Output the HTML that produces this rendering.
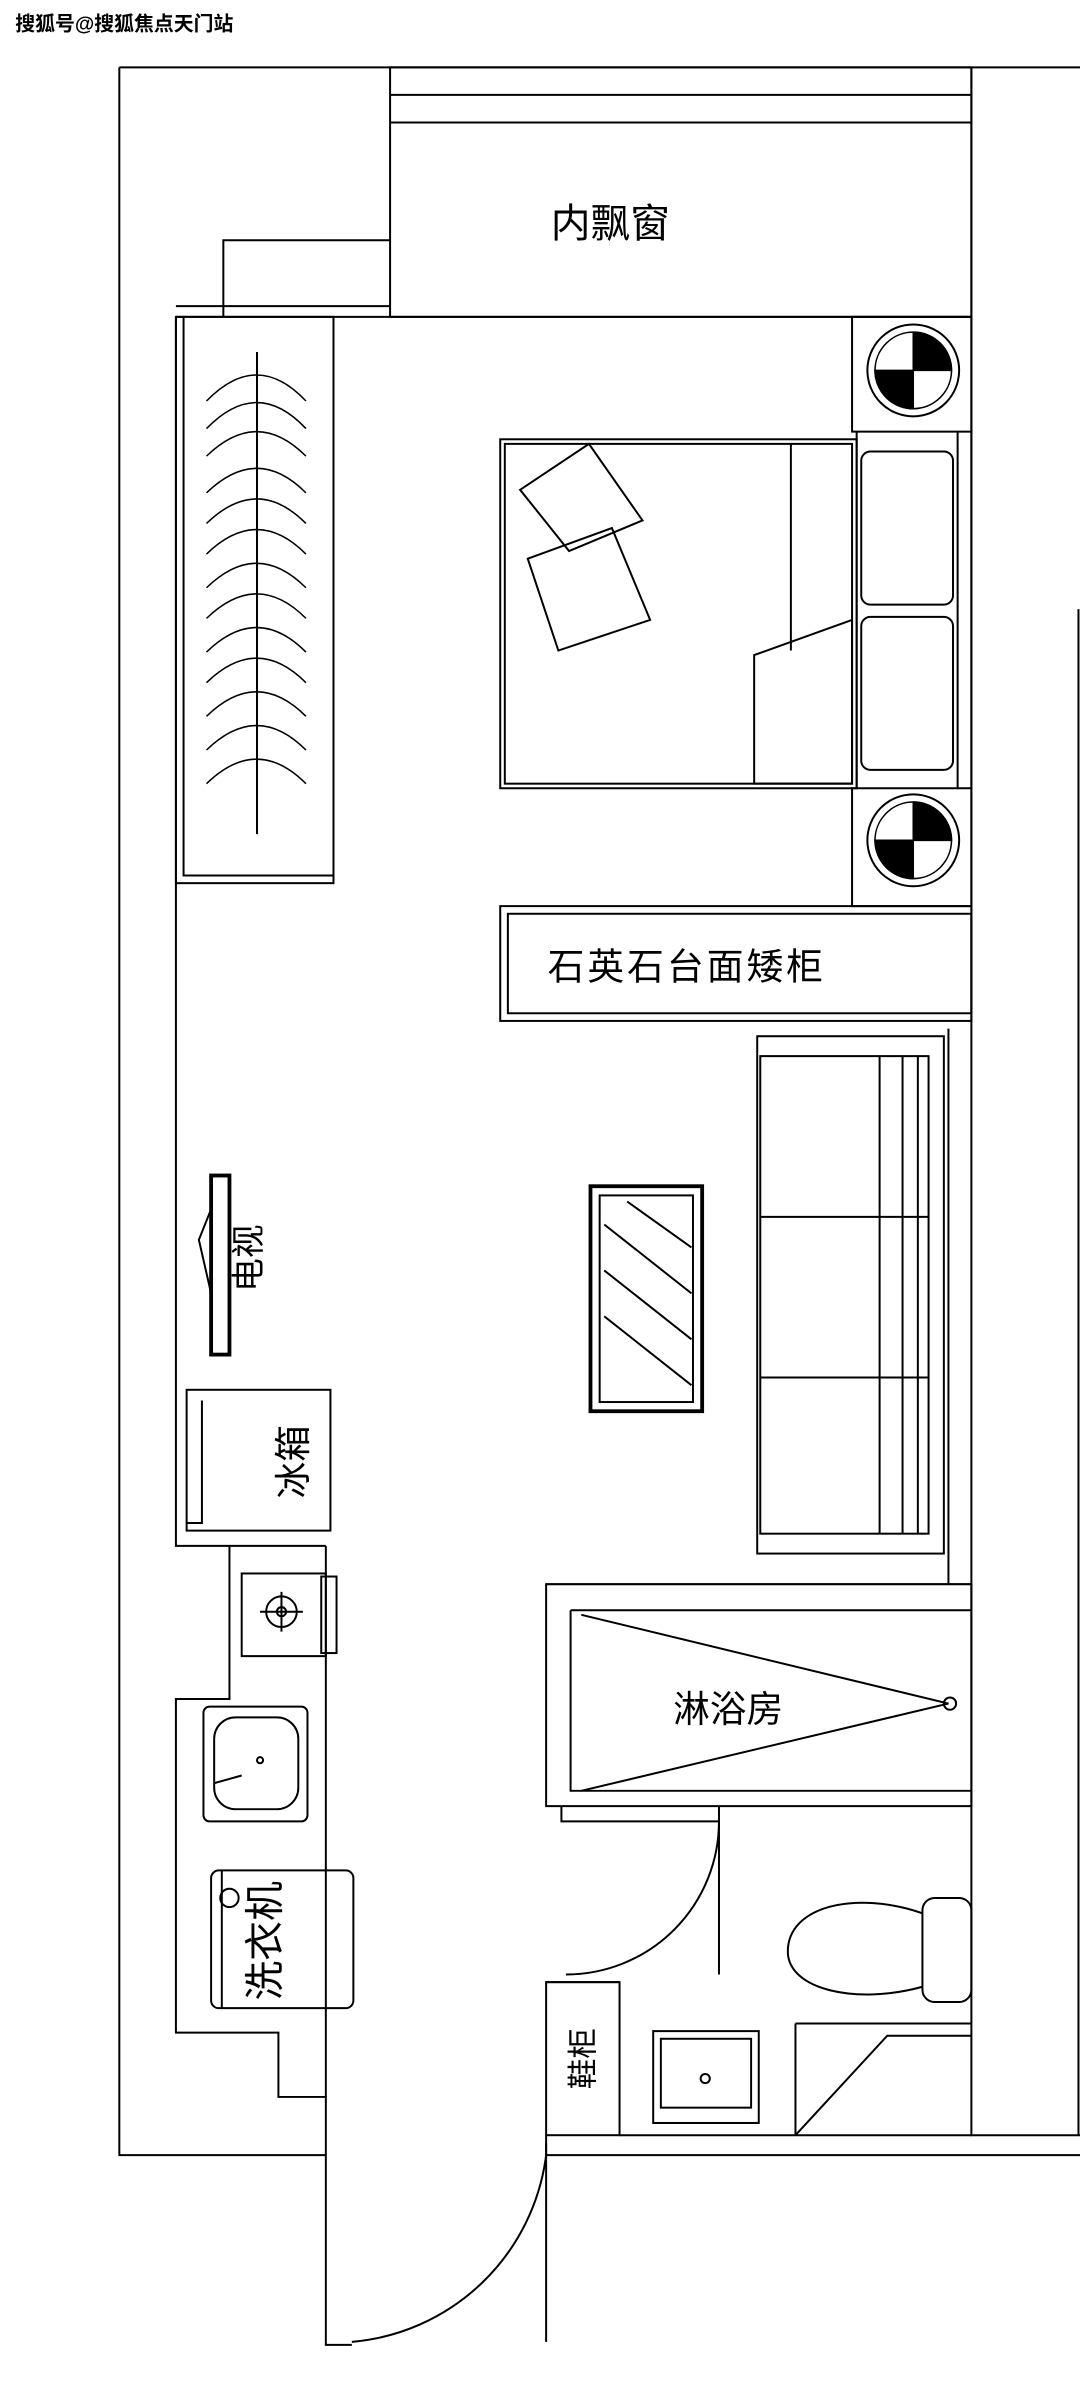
<!DOCTYPE html>
<html><head><meta charset="utf-8"><style>
html,body{margin:0;padding:0;background:#fff;width:1080px;height:2400px;overflow:hidden}
svg{display:block}
text{font-family:"Liberation Sans","Noto Sans CJK SC",sans-serif;fill:#000}
</style></head><body>
<svg width="1080" height="2400" viewBox="0 0 706 1568" preserveAspectRatio="none" xmlns="http://www.w3.org/2000/svg">
<rect width="706" height="1568" fill="#fff"/>
<text x="10" y="20" font-size="13" font-weight="bold">搜狐号@搜狐焦点天门站</text>
<g fill="none" stroke="#000" stroke-width="1.3">
<path d="M78 44 H706 M78 44 V1408 H213 M357 1408 H706"/>
<path d="M635 44 V1395 H706"/>
<path d="M705 398 V1395"/>
<rect x="255" y="44" width="380" height="163"/>
<path d="M255 62 H635 M255 80 H635"/>
<path d="M146 207 V157 H255"/>
<path d="M115 200 H255 M115 207 H635"/>
<path d="M115 207 V1010 H150 V1110 H115 V1328 H182 V1370 H213 V1532 H230"/>
<path d="M213 1010 V1370"/>
<path d="M150 1010 H213"/>
<rect x="115" y="207" width="103" height="370"/>
<path d="M120 207 V572 H218"/>
<path d="M168 230 V545"/>
</g>
<g fill="none" stroke="#000" stroke-width="1">
<path d="M135 262 Q168 228 200 262 M135 280 Q168 246 200 280 M135 298 Q168 266 200 298 M135 322 Q168 290 200 322 M135 342 Q168 310 200 342 M135 362 Q168 330 200 362 M135 384 Q168 352 200 384 M135 404 Q168 372 200 404 M135 426 Q168 394 200 426 M135 446 Q168 414 200 446 M135 468 Q168 436 200 468 M135 490 Q168 458 200 490 M135 512 Q168 480 200 512"/>
</g>
<g fill="none" stroke="#000" stroke-width="1.3">
<rect x="327" y="287" width="233" height="228"/>
<rect x="330" y="290" width="227" height="222"/>
<path d="M517 290 V425"/>
<path d="M493 428 L557 405 V512 H493 Z"/>
<path d="M340 320 L385 290 L420 340 L372 360 Z M345 365 L400 345 L425 405 L365 425 Z"/>
<rect x="557" y="207" width="78" height="75"/>
<rect x="557" y="515" width="78" height="77"/>
<path d="M560 282 V515 M635 282 V515 M626 282 V515"/>
<rect x="563" y="295" width="60" height="100" rx="6"/>
<rect x="563" y="403" width="60" height="100" rx="6"/>
<circle cx="597" cy="242" r="30"/>
<circle cx="597" cy="549" r="30"/>
</g>
<g stroke="#000" stroke-width="1">
<circle cx="597" cy="242" r="25" fill="#fff"/>
<path d="M597 217 A25 25 0 0 1 622 242 H597 Z M597 267 A25 25 0 0 1 572 242 H597 Z" fill="#000"/>
<circle cx="597" cy="549" r="25" fill="#fff"/>
<path d="M597 524 A25 25 0 0 1 622 549 H597 Z M597 574 A25 25 0 0 1 572 549 H597 Z" fill="#000"/>
</g>
<g fill="none" stroke="#000" stroke-width="1.3">
<rect x="327" y="592" width="308" height="75"/>
<rect x="332" y="597" width="303" height="65"/>
<path d="M357 1035 H635"/>
<path d="M620 672 V1035"/>
<rect x="495" y="677" width="122" height="338"/>
<rect x="497" y="690" width="110" height="312"/>
<path d="M575 690 V1002 M590 690 V1002 M600 690 V1002 M497 795 H607 M497 900 H607"/>
<rect x="386" y="775" width="73" height="147" stroke-width="2.5"/>
<rect x="392" y="781" width="61" height="135"/>
<path d="M395 800 L452 845 M395 830 L452 875 M395 860 L452 905 M410 785 L452 815"/>
<rect x="138" y="768" width="12" height="117" stroke-width="2.5"/>
<path d="M138 790 L130 810 L138 845"/>
<rect x="122" y="908" width="94" height="92"/>
<path d="M132 915 V995 H122"/>
<rect x="158" y="1028" width="55" height="54"/>
<rect x="210" y="1030" width="10" height="50"/>
<circle cx="184" cy="1053" r="10"/>
<circle cx="184" cy="1053" r="3"/>
<path d="M170 1053 H198 M184 1040 V1066"/>
<rect x="133" y="1115" width="68" height="75" rx="4"/>
<rect x="140" y="1122" width="55" height="60" rx="14"/>
<path d="M140 1165 L158 1160"/>
<circle cx="170" cy="1150" r="2"/>
<rect x="138" y="1222" width="93" height="90" rx="5"/>
<path d="M145 1222 V1312"/>
<circle cx="150" cy="1240" r="6"/>
<rect x="357" y="1035" width="278" height="145"/>
<path d="M373 1052 H635 M373 1052 V1170 H635"/>
<path d="M380 1055 L620 1113 L380 1170"/>
<circle cx="621" cy="1113" r="4"/>
<path d="M367 1180 V1190 H470 V1180"/>
<path d="M470 1190 V1290"/>
<path d="M470 1190 A100 100 0 0 1 370 1290"/>
<rect x="603" y="1240" width="32" height="68" rx="8"/>
<path d="M603 1250 C560 1235 515 1245 515 1275 C515 1300 560 1310 603 1298"/>
<path d="M520 1322 H635 M520 1322 V1395 M520 1395 L580 1330 H635"/>
<rect x="427" y="1327" width="69" height="60"/>
<rect x="432" y="1332" width="59" height="45"/>
<path d="M427 1387 H496"/>
<circle cx="461" cy="1358" r="3"/>
<rect x="357" y="1295" width="48" height="100"/>
<path d="M405 1395 H635 M405 1295 H357"/>
<path d="M357 1395 V1408 M357 1408 A140 140 0 0 1 230 1530"/>
<path d="M357 1400 V1530"/>
</g>
<text x="360" y="155" font-size="26">内飘窗</text>
<text x="358" y="640" font-size="24" letter-spacing="2">石英石台面矮柜</text>
<text x="440" y="1125" font-size="24">淋浴房</text>
<text transform="translate(170,822) rotate(-90)" font-size="22" text-anchor="middle">电视</text>
<text transform="translate(200,955) rotate(-90)" font-size="24" text-anchor="middle">冰箱</text>
<text transform="translate(182,1268) rotate(-90)" font-size="26" text-anchor="middle">洗衣机</text>
<text transform="translate(388,1345) rotate(-90)" font-size="20" text-anchor="middle">鞋柜</text>
</svg>
</body></html>
